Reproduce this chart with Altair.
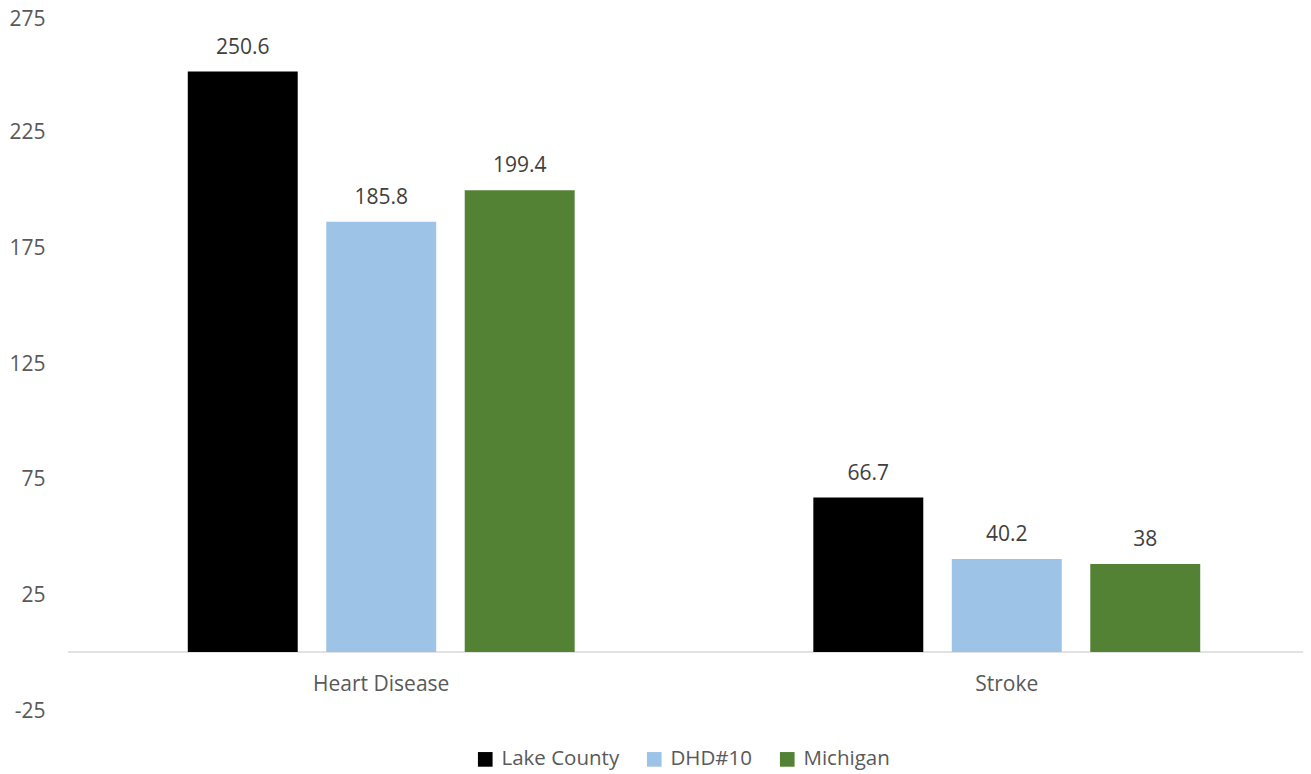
import altair as alt
import pandas as pd

categories = ["Heart Disease", "Stroke"]
series = ["Lake County", "DHD#10", "Michigan"]
values = {
    "Lake County": [250.6, 66.7],
    "DHD#10": [185.8, 40.2],
    "Michigan": [199.4, 38],
}
labels = {
    "Lake County": ["250.6", "66.7"],
    "DHD#10": ["185.8", "40.2"],
    "Michigan": ["199.4", "38"],
}
colors = ["#000000", "#9DC3E6", "#548235"]
y_ticks = [-25, 25, 75, 125, 175, 225, 275]

rows = []
for s in series:
    for i, c in enumerate(categories):
        rows.append({"cause": c, "area": s, "value": values[s][i], "label": labels[s][i]})
df = pd.DataFrame(rows)

FONT = "Open Sans"
FS = 21
PAD_LEFT = 123
PAD_TOP = 7
W = 1126
H = 695
TOTAL_W = 1295  # page content width (1311 - 2*8 margin)
TOTAL_H = 780

x = alt.X("cause:N", sort=categories, title=None,
          scale=alt.Scale(paddingInner=0.2, paddingOuter=0),
          axis=alt.Axis(labelAngle=0, domain=False, ticks=False, offset=-58,
                        labelPadding=21, labelFont=FONT, labelFontSize=FS,
                        labelColor="#595959"))
xo = alt.XOffset("area:N", sort=series,
                 scale=alt.Scale(paddingInner=0.206, paddingOuter=0.41))
y = alt.Y("value:Q", title=None,
          scale=alt.Scale(domain=[-25, 275], nice=False, zero=False),
          axis=alt.Axis(values=y_ticks, grid=False, labelExpr="'' + datum.value",
                        domain=False, ticks=False, labelPadding=86,
                        labelOffset={"condition": {"test": "datum.value == 275", "value": 4},
                                     "value": 1.5},
                        labelFont=FONT, labelFontSize=FS, labelColor="#595959"))
color = alt.Color("area:N", sort=series, title=None,
                  scale=alt.Scale(domain=series, range=colors),
                  legend=alt.Legend(orient="none", direction="horizontal",
                                    legendX=344, legendY=734,
                                    symbolType="square", symbolSize=215,
                                    symbolStrokeWidth=0, columnPadding=24,
                                    labelFont=FONT, labelFontSize=20.5,
                                    labelColor="#595959", labelOffset=6))

base = alt.Chart(df)
bars = base.mark_bar().encode(x=x, xOffset=xo, y=y, y2=alt.datum(0), color=color)
text = base.mark_text(baseline="alphabetic", dy=-18, font=FONT, fontSize=FS,
                      color="#404040").encode(x=x, xOffset=xo, y=y, text="label:N")
zero = alt.Chart(pd.DataFrame({"z": [0]})).mark_rule(color="#D9D9D9", strokeWidth=1.5).encode(
    y=alt.Y("z:Q"), x=alt.value(68 - 8 - PAD_LEFT), x2=alt.value(TOTAL_W - PAD_LEFT))

chart = alt.layer(zero, bars, text).properties(
    width=W, height=H,
    autosize=alt.AutoSizeParams(type="none"),
    padding={"left": PAD_LEFT, "top": PAD_TOP, "right": TOTAL_W - PAD_LEFT - W,
             "bottom": TOTAL_H - PAD_TOP - H},
).configure_view(stroke=None)

chart.save("out.html", embed_options={"renderer": "svg", "actions": False})
